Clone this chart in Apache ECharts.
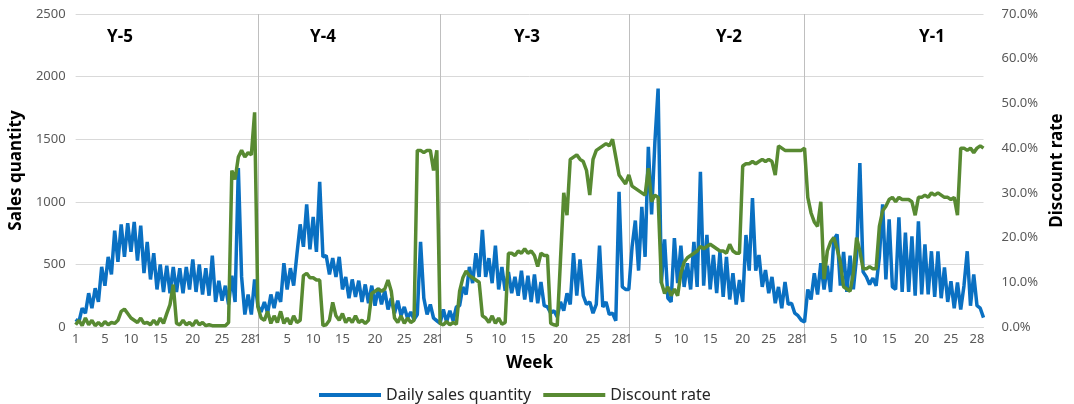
<!DOCTYPE html>
<html>
<head>
<meta charset="utf-8">
<script src="https://cdn.jsdelivr.net/npm/echarts@6/dist/echarts.min.js"></script>
<style>
html,body{margin:0;padding:0;background:#fff;}
#chart{width:1074px;height:404px;}
</style>
</head>
<body>
<div id="chart"></div>
<script>
// ---- data (about 2 readings per week, 28 weeks per year) ----
const yearNames = ['Y-5', 'Y-4', 'Y-3', 'Y-2', 'Y-1'];
const weekTickLabels = ['1', '5', '10', '15', '20', '25', '28'];
const weekTickFrac = [0, 0.161, 0.304, 0.47, 0.643, 0.804, 0.946];

const salesY5 = [60,40,150,110,270,150,310,200,480,330,560,420,770,520,820,560,830,600,840,530,810,430,680,380,590,300,500,280,490,270,480,280,470,270,480,300,540,280,500,260,470,250,570,200,370,210,330,180,410,200,1270,400,100,260,100,380];
const salesY4 = [170,120,200,110,260,150,280,200,510,300,470,330,580,820,640,980,620,880,600,1160,560,570,420,550,400,560,300,400,230,380,240,370,200,340,190,330,170,310,180,290,140,230,110,210,90,160,70,120,60,100,680,230,100,180,70,50];
const salesY3 = [30,140,40,130,50,160,170,320,260,480,350,590,400,775,400,550,350,650,300,480,290,440,270,400,250,450,220,410,200,420,190,360,170,160,110,130,80,200,130,270,180,590,250,540,250,180,200,110,180,650,160,200,100,110,50,1080,320,300];
const salesY2 = [300,640,850,450,960,560,1440,900,1470,1905,350,700,230,200,710,350,650,320,510,300,680,320,1240,330,735,300,575,270,600,240,560,220,430,180,375,200,735,450,1030,450,575,320,455,270,400,190,320,150,360,180,190,110,90,55];
const salesY1 = [40,300,220,430,260,510,300,490,280,700,740,330,600,280,570,300,560,1310,440,400,340,390,330,560,980,380,860,320,300,875,280,755,280,725,250,845,260,660,260,605,240,605,230,475,200,365,150,355,140,330,605,170,420,170,150,75];

const discY5 = [0.5,1.5,0.3,2.0,0.5,1.5,0.3,1.0,0.3,1.2,0.5,1.0,0.8,1.5,3.5,4.0,3.0,2.0,1.5,1.0,2.0,0.8,1.0,0.5,1.5,0.5,2.0,0.8,3.0,5.0,9.5,0.8,0.5,1.5,0.5,1.0,0.3,1.5,0.5,1.0,0.3,0.5,0.3,0.3,0.3,0.3,0.3,1.0,35,33,38,39.5,38,39,38.5,48];
const discY4 = [4.5,2,1.5,3.5,0.8,2.5,1.0,3.5,0.8,2.0,0.6,2.5,1.0,1.5,11.5,12.0,11.0,11.0,10.5,10.5,0.3,0.5,1.5,5.5,2.5,1.5,3.0,1.0,2.0,1.0,2.5,1.0,1.5,0.8,1.5,7.5,8.0,8.5,8.0,8.5,10.5,8.0,2.0,1.0,2.5,0.8,2.0,1.0,1.5,39.5,39.5,39,39.5,39.5,35,39.5];
const discY3 = [0.8,0.5,1.2,0.5,1.0,0.6,8.0,11.0,12.5,11.5,11.0,10.5,10.0,2.5,2.0,1.0,2.5,0.8,2.0,0.6,1.0,16.5,16.5,16.0,17.0,16.5,17.5,16.5,17.0,16.0,13.5,16.5,16.0,16.0,0.8,0.5,0.3,15,30,25,37.5,38,38.5,37.5,37,35,29.5,37.5,39.5,40,40.5,41,40.5,42,38,34,33,32];
const discY2 = [34,31.5,31,30.5,30,29.5,35.5,28,29.5,29,10,7.5,9,7,8.5,7,12,14.5,15.5,16,16.5,17,18,17.5,18,18.5,18,17.5,17,17,16.5,18.5,17,16.5,16.5,36,36.5,36.5,37,36.5,37,37.5,37,37.5,37,34,40.5,40,39.5,39.5,39.5,39.5,39.5,39.5];
const discY1 = [40,29,25.5,23.5,22.5,28,10.7,17,19,20,17.5,14.5,9,8.5,8,12,20,17,13,13,13.5,13,13,22.5,26,27,28.5,29,28,29,28.5,28.5,28.5,28,25,29,29,29.5,29,30,29.5,30,29.5,29,29,28.5,29,25,40,40,39.5,40,39,40,40.5,40];

// ---- build ----
const salesYears = [salesY5, salesY4, salesY3, salesY2, salesY1];
const discYears = [discY5, discY4, discY3, discY2, discY1];
const categories = [];
const tickLabelAt = {};
const yearStart = {};
let offset = 0;
salesYears.forEach((arr, y) => {
  if (y > 0) yearStart[offset] = true;
  arr.forEach((v, i) => categories.push(yearNames[y] + '#' + i));
  weekTickFrac.forEach((f, k) => { tickLabelAt[offset + Math.round(f * arr.length)] = weekTickLabels[k]; });
  offset += arr.length;
});
const sales = [].concat(...salesYears);
const disc = [].concat(...discYears);

const FONT = 'Noto Sans';
const BLUE = '#0a70c2';
const GREEN = '#588a32';
const chart = echarts.init(document.getElementById('chart'), null, {renderer: 'canvas'});
const yearLabelX = [120, 323, 527, 729, 932];

chart.setOption({
  backgroundColor: '#fff',
  animation: false,
  textStyle: {fontFamily: FONT},
  grid: {left: 73, right: 79, top: 14, bottom: 77, containLabel: false},
  legend: {
    data: ['Daily sales quantity', 'Discount rate'],
    left: 314, top: 382,
    icon: 'rect',
    itemWidth: 62, itemHeight: 4, itemGap: 12,
    textStyle: {fontFamily: FONT, fontSize: 16, color: '#262626'}
  },
  xAxis: {
    type: 'category',
    data: categories,
    boundaryGap: false,
    name: 'Week',
    nameLocation: 'middle',
    nameGap: 28,
    nameTextStyle: {fontFamily: FONT, fontSize: 17, fontWeight: 'bold', color: '#000'},
    axisLine: {show: true, lineStyle: {color: '#d9d9d9'}},
    axisTick: {show: true, length: 8, interval: (i) => !!yearStart[i], lineStyle: {color: '#bfbfbf'}},
    splitLine: {show: true, interval: (i) => !!yearStart[i], lineStyle: {color: '#bfbfbf', width: 1}},
    axisLabel: {
      interval: (i) => tickLabelAt[i] !== undefined,
      formatter: (v, i) => tickLabelAt[i] || '',
      color: '#595959', fontSize: 13, margin: 6, fontFamily: FONT
    }
  },
  yAxis: [
    {
      type: 'value', min: 0, max: 2500, interval: 500,
      name: 'Sales quantity', nameLocation: 'middle', nameGap: 44, nameRotate: 90,
      nameTextStyle: {fontFamily: FONT, fontSize: 17, fontWeight: 'bold', color: '#000'},
      axisLine: {show: false}, axisTick: {show: false},
      axisLabel: {color: '#595959', fontSize: 13, margin: 10, fontFamily: FONT, formatter: (v) => String(v)},
      splitLine: {lineStyle: {color: '#d9d9d9', width: 1}}
    },
    {
      type: 'value', min: 0, max: 70, interval: 10,
      name: 'Discount rate', nameLocation: 'middle', nameGap: 63, nameRotate: 90,
      nameTextStyle: {fontFamily: FONT, fontSize: 17, fontWeight: 'bold', color: '#000'},
      axisLine: {show: false}, axisTick: {show: false},
      axisLabel: {color: '#595959', fontSize: 13, margin: 18, fontFamily: FONT, formatter: (v) => v.toFixed(1) + '%'},
      splitLine: {show: false}
    }
  ],
  series: [
    {
      name: 'Daily sales quantity', type: 'line', data: sales, yAxisIndex: 0,
      symbol: 'none', smooth: false, z: 2,
      lineStyle: {color: BLUE, width: 3.5},
      itemStyle: {color: BLUE}
    },
    {
      name: 'Discount rate', type: 'line', data: disc, yAxisIndex: 1,
      symbol: 'none', smooth: false, z: 3,
      lineStyle: {color: GREEN, width: 3.5},
      itemStyle: {color: GREEN}
    }
  ],
  graphic: yearNames.map((n, k) => ({
    type: 'text', x: yearLabelX[k], y: 37,
    style: {text: n, fontFamily: FONT, fontSize: 17, fontWeight: 'bold', fill: '#000', align: 'center', verticalAlign: 'middle'}
  }))
});
</script>
</body>
</html>
